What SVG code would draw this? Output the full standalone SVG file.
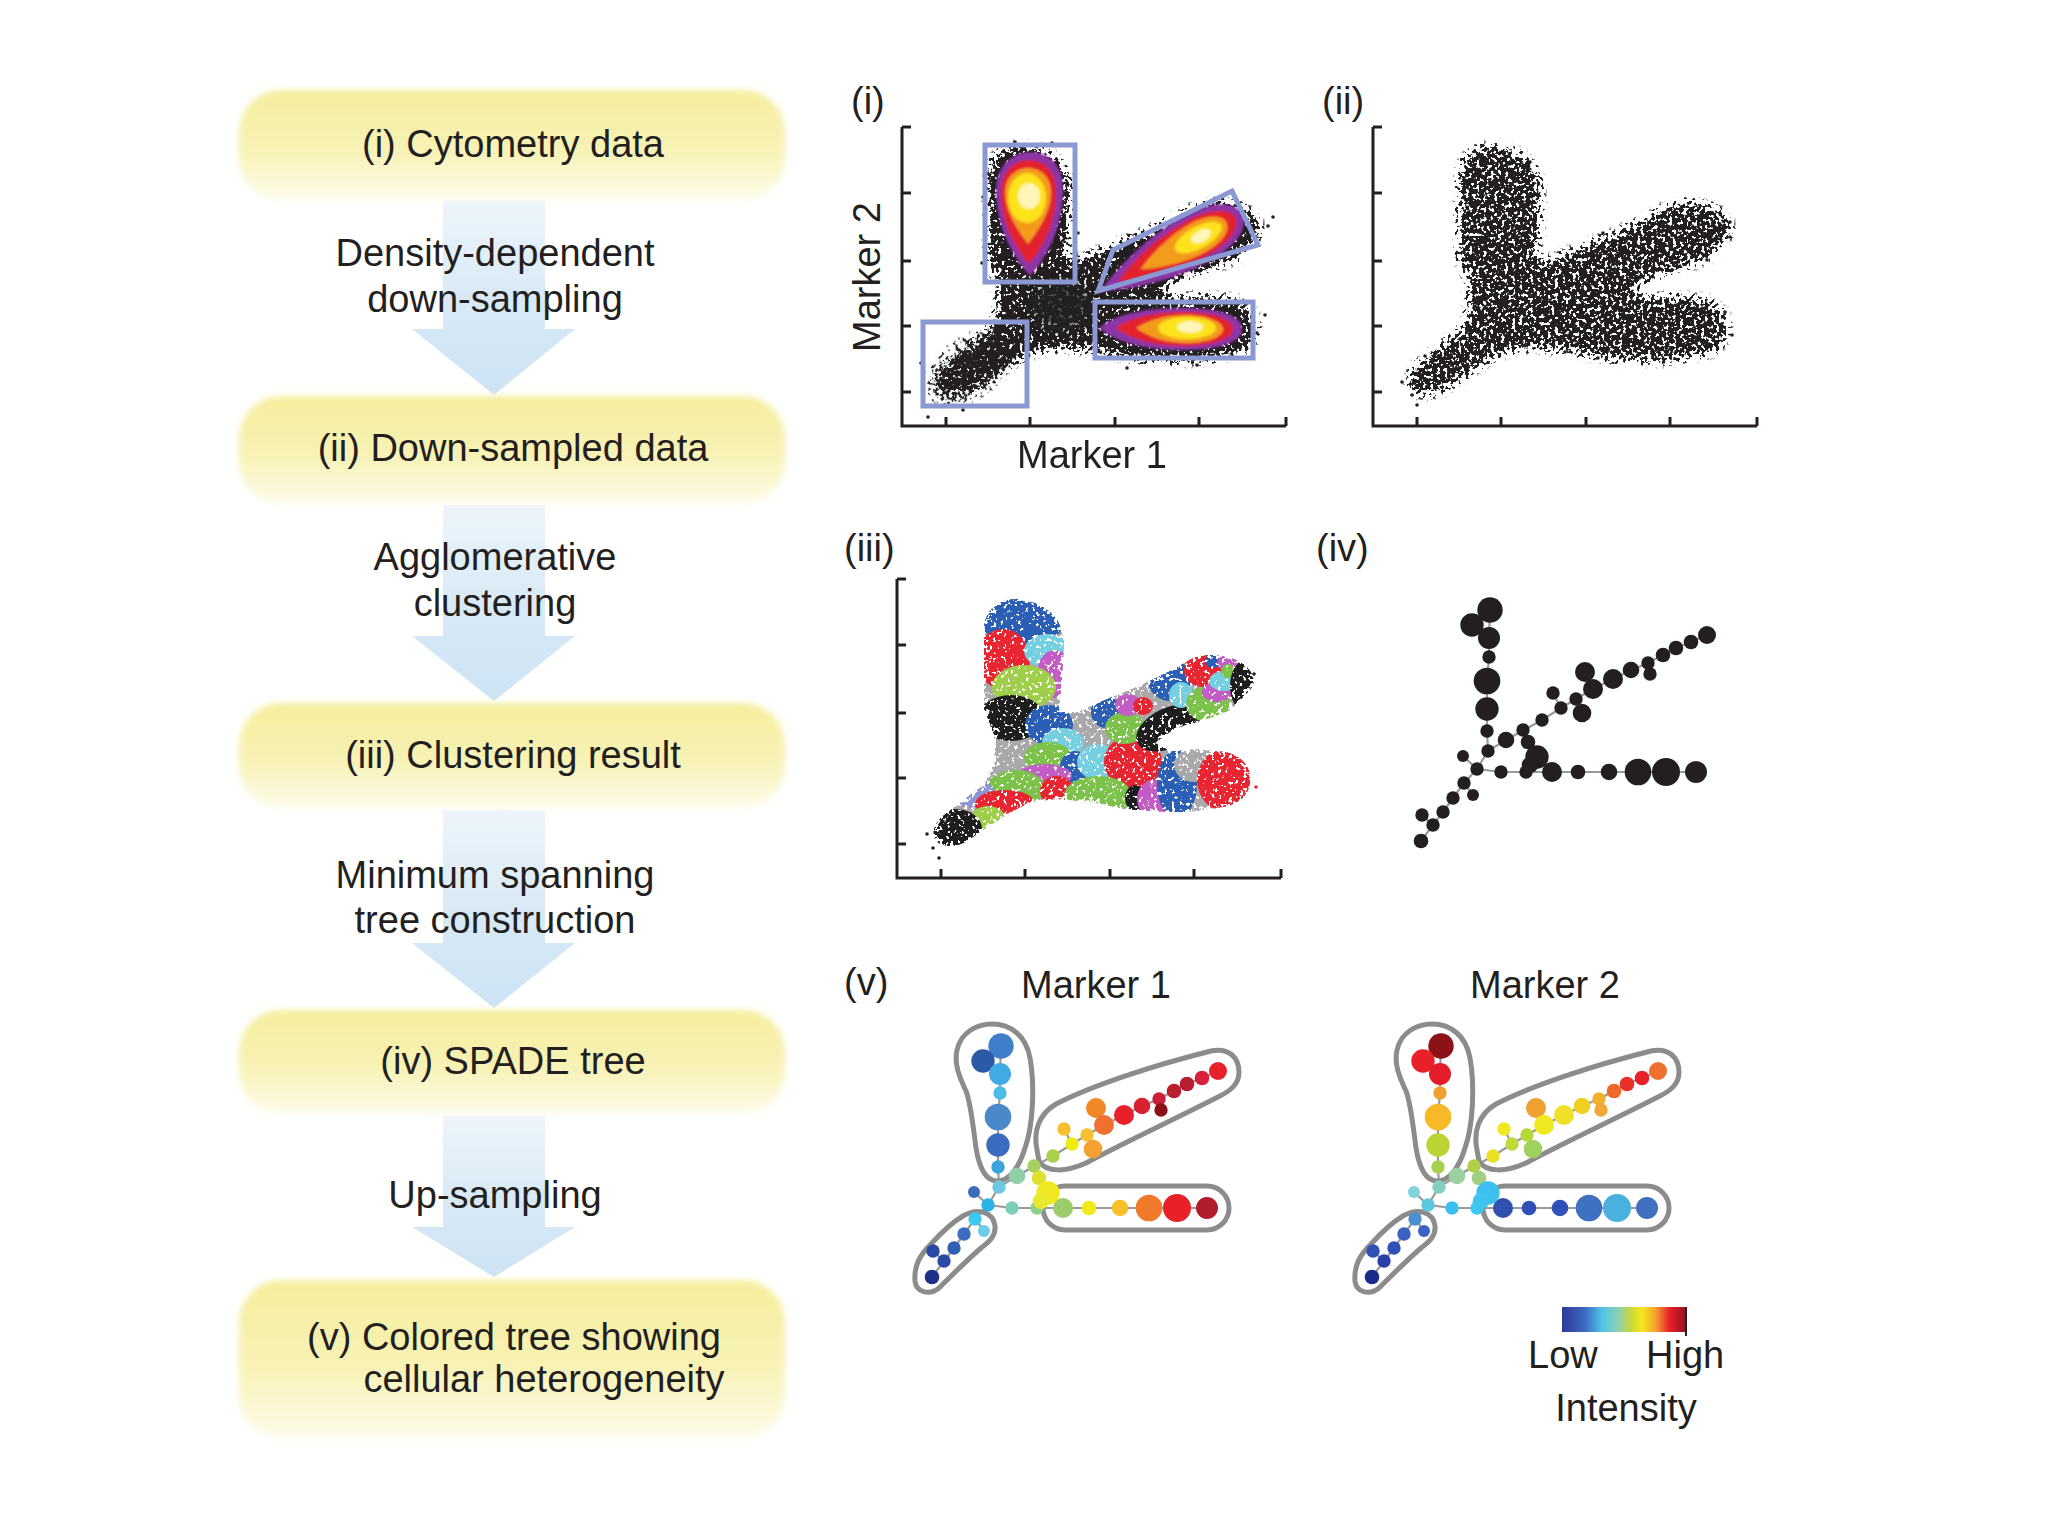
<svg xmlns="http://www.w3.org/2000/svg" width="2048" height="1536" viewBox="0 0 2048 1536">
<defs>
<style>
text{font-family:"Liberation Sans",Arial,Helvetica,sans-serif;fill:#231f20;font-size:38px;}
.mid{text-anchor:middle;}
.box{fill:url(#boxg);filter:url(#soft);}
.arr{fill:url(#arrg);}
.ax{fill:none;stroke:#231f20;stroke-width:3;}
.gate{fill:none;stroke:#8a98d3;stroke-width:5;}
.edge{stroke:#9a9a9a;stroke-width:2.2;fill:none;}
.hull{fill:none;stroke:#8c8c8c;stroke-width:5;}
.dot{fill:#231f20;}
</style>
<linearGradient id="boxg" x1="0" y1="0" x2="0" y2="1">
<stop offset="0" stop-color="#f6ee9c"/><stop offset="0.55" stop-color="#f8f2b6"/><stop offset="1" stop-color="#fdfbea"/>
</linearGradient>
<linearGradient id="arrg" x1="0" y1="0" x2="0" y2="1">
<stop offset="0" stop-color="#edf5fb"/><stop offset="0.5" stop-color="#d9eaf6"/><stop offset="1" stop-color="#cde3f4"/>
</linearGradient>
<linearGradient id="cbar" x1="0" y1="0" x2="1" y2="0">
<stop offset="0" stop-color="#2c3a98"/><stop offset="0.18" stop-color="#3d68bf"/><stop offset="0.32" stop-color="#4ec4ea"/><stop offset="0.45" stop-color="#8fcfb0"/><stop offset="0.55" stop-color="#c6d83a"/><stop offset="0.64" stop-color="#f6e71c"/><stop offset="0.75" stop-color="#f5a030"/><stop offset="0.86" stop-color="#e8202a"/><stop offset="1" stop-color="#8e1020"/>
</linearGradient>
<filter id="soft" x="-5%" y="-20%" width="110%" height="140%"><feGaussianBlur stdDeviation="3"/></filter>
<filter id="soft1" x="-10%" y="-10%" width="120%" height="120%"><feGaussianBlur stdDeviation="1.3"/></filter>
<filter id="blur6" x="-30%" y="-30%" width="160%" height="160%"><feGaussianBlur stdDeviation="7"/></filter>
<filter id="speckK" x="-10%" y="-10%" width="120%" height="120%" color-interpolation-filters="sRGB">
<feGaussianBlur in="SourceAlpha" stdDeviation="4" result="d"/>
<feTurbulence type="fractalNoise" baseFrequency="0.28" numOctaves="2" seed="4" result="t"/>
<feColorMatrix in="t" type="matrix" values="0 0 0 0 0  0 0 0 0 0  0 0 0 0 0  3 0 0 0 -1" result="n"/>
<feComposite in="d" in2="n" operator="arithmetic" k1="0" k2="1" k3="-1" k4="0" result="diff"/>
<feComponentTransfer in="diff" result="m"><feFuncA type="linear" slope="9" intercept="0"/></feComponentTransfer>
<feFlood flood-color="#231f20"/>
<feComposite in2="m" operator="in"/>
</filter>
<filter id="speckC" x="-10%" y="-10%" width="120%" height="120%" color-interpolation-filters="sRGB">
<feGaussianBlur in="SourceAlpha" stdDeviation="3.5" result="d"/>
<feTurbulence type="fractalNoise" baseFrequency="0.28" numOctaves="2" seed="9" result="t"/>
<feColorMatrix in="t" type="matrix" values="0 0 0 0 0  0 0 0 0 0  0 0 0 0 0  3 0 0 0 -1" result="n"/>
<feComposite in="d" in2="n" operator="arithmetic" k1="0" k2="1" k3="-1" k4="0" result="diff"/>
<feComponentTransfer in="diff" result="m"><feFuncA type="linear" slope="10" intercept="0"/></feComponentTransfer>
<feComposite in="SourceGraphic" in2="m" operator="in"/>
</filter>
<path id="scat" d="M87,-169 L87,-249 C87,-266 100,-279 117,-279 C136,-279 158,-269 164,-250 L167,-236 L165,-196 L162,-166 L180,-166 L210,-179 L244,-193 L277,-209 L294,-219 C306,-225 330,-225 345,-215 C357,-207 361,-194 351,-186 L334,-168 L310,-159 L277,-149 L258,-135 L274,-127 L300,-129 L330,-126 C347,-121 356,-108 353,-94 C350,-80 340,-72 320,-70 L294,-66 L260,-66 L227,-69 L194,-76 L160,-79 L134,-76 L114,-66 L94,-53 L70,-37 C61,-31 47,-30 40,-36 C33,-43 37,-55 47,-63 L67,-79 L87,-93 L97,-116 L97,-143 Z"/>
<clipPath id="clipS"><use href="#scat"/></clipPath>
<path id="axes" class="ax" d="M0,-299 L0,0 L384,0 M0,-299 L9,-299 M0,-233 L9,-233 M0,-165 L9,-165 M0,-100 L9,-100 M0,-34 L9,-34 M44,0 L44,-9 M128,0 L128,-9 M213,0 L213,-9 M297,0 L297,-9 M384,0 L384,-9"/>
<path id="edges" class="edge" d="M1490,610 L1489,638 M1472,625 L1489,638 L1489,657 L1487,681 L1487,709 L1487,731 L1488,751 L1477,769 L1463,756 M1477,769 L1464,783 L1453,798 L1443,812 L1433,825 L1421,841 M1464,783 L1473,795 M1433,825 L1422,815 M1477,769 L1501,772 L1696,772 M1488,751 L1506,740 L1542,720 L1561,708 L1576,699 L1593,689 L1613,679 L1631,670 L1648,663 L1663,655 L1676,648 L1691,642 L1707,635 M1561,708 L1553,693 M1576,699 L1582,713 M1593,689 L1585,672 M1648,663 L1650,674 M1506,740 L1523,730 L1528,742 L1537,757 L1530,765 L1526,772"/>
<g id="hulls" class="hull">
<path d="M1446,614 C1450,596 1466,588 1481,588 C1500,588 1515,600 1519,622 C1524,650 1522,690 1514,712 C1508,732 1498,745 1486,745 C1474,745 1468,730 1465,712 C1462,690 1460,668 1455,655 C1448,640 1443,628 1446,614 Z"/>
<path d="M1526,714 C1522,695 1528,678 1545,668 C1580,650 1640,630 1700,615 C1718,611 1728,622 1728,636 C1728,648 1720,655 1705,662 C1660,685 1610,708 1575,727 C1555,736 1535,737 1528,725 Z"/>
<rect x="1532" y="750" width="186" height="44" rx="22"/>
<path d="M1452,780 C1466,772 1482,775 1484,790 C1485,800 1478,806 1470,812 C1455,825 1440,840 1428,852 C1418,860 1405,856 1404,845 C1403,830 1408,820 1420,808 C1430,797 1440,787 1452,780 Z"/>
</g>
<g id="nodes">
<circle id="n1" cx="1490" cy="610" r="12.7"/>
<circle id="n2" cx="1472" cy="625" r="11.7"/>
<circle id="n3" cx="1489" cy="638" r="11"/>
<circle id="n4" cx="1489" cy="657" r="6.7"/>
<circle id="n5" cx="1487" cy="681" r="13.3"/>
<circle id="n6" cx="1487" cy="709" r="11.7"/>
<circle id="n7" cx="1487" cy="731" r="6.7"/>
<circle id="n8" cx="1488" cy="751" r="6.7"/>
<circle id="n9" cx="1477" cy="769" r="6.7"/>
<circle id="n10" cx="1463" cy="756" r="6"/>
<circle id="n11" cx="1464" cy="783" r="6.7"/>
<circle id="n12" cx="1473" cy="795" r="6"/>
<circle id="n13" cx="1453" cy="798" r="6.7"/>
<circle id="n14" cx="1443" cy="812" r="6.7"/>
<circle id="n15" cx="1422" cy="815" r="6.7"/>
<circle id="n16" cx="1433" cy="825" r="6.7"/>
<circle id="n17" cx="1421" cy="841" r="7.3"/>
<circle id="n18" cx="1501" cy="772" r="6.7"/>
<circle id="n19" cx="1526" cy="772" r="6.7"/>
<circle id="n20" cx="1552" cy="772" r="10"/>
<circle id="n21" cx="1578" cy="772" r="7.3"/>
<circle id="n22" cx="1609" cy="772" r="8.3"/>
<circle id="n23" cx="1638" cy="772" r="13.3"/>
<circle id="n24" cx="1666" cy="772" r="14"/>
<circle id="n25" cx="1696" cy="772" r="11"/>
<circle id="n26" cx="1506" cy="740" r="8.3"/>
<circle id="n27" cx="1523" cy="730" r="6.7"/>
<circle id="n28" cx="1528" cy="742" r="7.3"/>
<circle id="n29" cx="1537" cy="757" r="11.7"/>
<circle id="n30" cx="1530" cy="765" r="8.3"/>
<circle id="n31" cx="1542" cy="720" r="6.7"/>
<circle id="n32" cx="1561" cy="708" r="6.7"/>
<circle id="n33" cx="1553" cy="693" r="6.7"/>
<circle id="n34" cx="1576" cy="699" r="6.7"/>
<circle id="n35" cx="1582" cy="713" r="9.3"/>
<circle id="n36" cx="1585" cy="672" r="10"/>
<circle id="n37" cx="1593" cy="689" r="10"/>
<circle id="n38" cx="1613" cy="679" r="10"/>
<circle id="n39" cx="1631" cy="670" r="8.3"/>
<circle id="n40" cx="1648" cy="663" r="6.7"/>
<circle id="n41" cx="1650" cy="674" r="6.7"/>
<circle id="n42" cx="1663" cy="655" r="7.3"/>
<circle id="n43" cx="1676" cy="648" r="7.3"/>
<circle id="n44" cx="1691" cy="642" r="7.3"/>
<circle id="n45" cx="1707" cy="635" r="9"/>
</g>
</defs>

<rect width="2048" height="1536" fill="#ffffff"/>

<!-- connectors: flow arrows -->
<g id="connectors">
<path class="arr" d="M443,200 L545,200 L545,329 L575,329 L494,395 L412,329 L443,329 Z"/>
<path class="arr" d="M443,505 L545,505 L545,636 L575,636 L494,701 L412,636 L443,636 Z"/>
<path class="arr" d="M443,810 L545,810 L545,943 L575,943 L494,1008 L412,943 L443,943 Z"/>
<path class="arr" d="M443,1116 L545,1116 L545,1227 L575,1227 L494,1277 L412,1227 L443,1227 Z"/>
</g>

<g id="step-labels">
<text class="mid" x="495" y="266">Density-dependent</text>
<text class="mid" x="495" y="312">down-sampling</text>
<text class="mid" x="495" y="570">Agglomerative</text>
<text class="mid" x="495" y="616">clustering</text>
<text class="mid" x="495" y="888">Minimum spanning</text>
<text class="mid" x="495" y="933">tree construction</text>
<text class="mid" x="495" y="1208">Up-sampling</text>
</g>

<g id="box1"><rect class="box" x="239" y="90" width="546" height="110" rx="42"/><text class="mid" x="513" y="157">(i) Cytometry data</text></g>
<g id="box2"><rect class="box" x="239" y="396" width="546" height="108" rx="42"/><text class="mid" x="513" y="461">(ii) Down-sampled data</text></g>
<g id="box3"><rect class="box" x="239" y="703" width="546" height="105" rx="42"/><text class="mid" x="513" y="768">(iii) Clustering result</text></g>
<g id="box4"><rect class="box" x="239" y="1010" width="546" height="104" rx="42"/><text class="mid" x="513" y="1074">(iv) SPADE tree</text></g>
<g id="box5"><rect class="box" x="239" y="1280" width="546" height="158" rx="42"/><text class="mid" x="514" y="1350">(v) Colored tree showing</text><text class="mid" x="544" y="1392">cellular heterogeneity</text></g>

<!-- panel (i) -->
<g id="panel-i">
<text x="851" y="114">(i)</text>
<g transform="translate(902,426)">
<use href="#scat" filter="url(#speckK)"/>
<ellipse cx="68" cy="-58" rx="46" ry="26" transform="rotate(-35 68 -58)" fill="#000" fill-opacity="0.55" filter="url(#speckK)"/>
<ellipse cx="160" cy="-120" rx="30" ry="24" fill="#231f20" fill-opacity="0.8" filter="url(#blur6)"/>
<g filter="url(#soft1)">
<path fill="#8d35a6" d="M128,-150 C110,-170 94,-200 94,-236 C94,-260 110,-274 128,-274 C148,-274 161,-260 161,-236 C161,-200 146,-170 128,-150 Z"/>
<path fill="#e3202e" d="M127,-162 C112,-180 99,-205 99,-234 C99,-254 112,-266 127,-266 C143,-266 154,-254 154,-234 C154,-205 142,-180 127,-162 Z"/>
<path fill="#f39c1f" d="M126,-182 C114,-198 103,-215 103,-233 C103,-249 114,-258 126,-258 C139,-258 149,-249 149,-233 C149,-215 138,-198 126,-182 Z"/>
<ellipse cx="125" cy="-228" rx="19" ry="25" fill="#fde31e"/>
<ellipse cx="127" cy="-230" rx="11" ry="13" fill="#fff6b8"/>
<g transform="translate(270,-174) rotate(-28.7)">
<path fill="#8d35a6" d="M-82,0 C-50,-15 -10,-26 30,-26 C62,-26 80,-13 80,0 C80,14 62,26 30,26 C-10,26 -50,15 -82,0 Z"/>
<path fill="#e3202e" d="M-62,0 C-35,-13 -5,-20 28,-20 C56,-20 72,-10 72,0 C72,10 56,20 28,20 C-5,20 -35,13 -62,0 Z"/>
<path fill="#f39c1f" d="M-36,0 C-15,-10 10,-16 30,-16 C51,-16 62,-8 62,0 C62,8 51,16 30,16 C10,16 -15,10 -36,0 Z"/>
<ellipse cx="30" cy="0" rx="26" ry="11" fill="#fde31e"/>
<ellipse cx="33" cy="0" rx="11" ry="6" fill="#fff6b8"/>
</g>
<path fill="#8d35a6" d="M197,-98 C215,-113 245,-118 280,-118 C316,-118 340,-111 340,-97 C340,-83 316,-76 280,-76 C245,-76 215,-83 197,-98 Z"/>
<path fill="#e3202e" d="M214,-98 C230,-110 255,-114 282,-114 C311,-114 331,-107 331,-97 C331,-87 311,-80 282,-80 C255,-80 230,-86 214,-98 Z"/>
<path fill="#f39c1f" d="M234,-98 C248,-107 265,-111 284,-111 C306,-111 321,-104 321,-97 C321,-89 306,-83 284,-83 C265,-83 248,-88 234,-98 Z"/>
<ellipse cx="285" cy="-98" rx="29" ry="11" fill="#fde31e"/>
<ellipse cx="288" cy="-99" rx="13" ry="6" fill="#fff6b8"/>
</g>
<g class="dot">
<circle cx="113" cy="-284" r="1.8"/><circle cx="150" cy="-283" r="1.8"/><circle cx="26" cy="-9" r="1.8"/><circle cx="61" cy="-16" r="1.8"/><circle cx="19" cy="-63" r="1.8"/><circle cx="225" cy="-58" r="1.8"/><circle cx="295" cy="-61" r="1.8"/><circle cx="371" cy="-209" r="1.8"/><circle cx="363" cy="-111" r="1.8"/><circle cx="355" cy="-93" r="1.8"/><circle cx="176" cy="-193" r="1.8"/><circle cx="81" cy="-229" r="1.8"/><circle cx="80" cy="-163" r="1.8"/><circle cx="366" cy="-200" r="1.8"/>
</g>
<use href="#axes"/>
</g>
<g class="gate">
<rect x="985" y="145" width="90" height="137"/>
<rect x="923" y="322" width="104" height="84"/>
<rect x="1095" y="302" width="158" height="56"/>
<polygon points="1098,291 1113,250 1232,191 1258,245"/>
</g>
<text class="mid" x="1092" y="468">Marker 1</text>
<text class="mid" transform="translate(880,277) rotate(-90)">Marker 2</text>
</g>

<!-- panel (ii) -->
<g id="panel-ii">
<text x="1322" y="114">(ii)</text>
<g transform="translate(1373,426)">
<use href="#scat" fill-opacity="0.85" filter="url(#speckK)"/>
<g class="dot">
<circle cx="29" cy="-44" r="1.8"/><circle cx="39" cy="-31" r="1.8"/><circle cx="44" cy="-21" r="1.8"/><circle cx="52" cy="-70" r="1.8"/><circle cx="357" cy="-204" r="1.8"/><circle cx="357" cy="-189" r="1.8"/><circle cx="359" cy="-91" r="1.8"/><circle cx="352" cy="-114" r="1.8"/><circle cx="230" cy="-193" r="1.8"/><circle cx="192" cy="-74" r="1.8"/><circle cx="225" cy="-68" r="1.8"/><circle cx="157" cy="-264" r="1.8"/><circle cx="334" cy="-166" r="1.8"/>
</g>
<use href="#axes"/>
</g>
</g>

<!-- panel (iii) -->
<g id="panel-iii">
<text x="844" y="561">(iii)</text>
<g transform="translate(897,878)">
<g filter="url(#speckC)">
<g clip-path="url(#clipS)">
<use href="#scat" fill="#a9a9ab"/>
<ellipse cx="112" cy="-125" rx="24" ry="23" fill="#a9a9ab"/>
<ellipse cx="192" cy="-145" rx="25" ry="23" fill="#a9a9ab"/>
<ellipse cx="250" cy="-184" rx="22" ry="13" fill="#a9a9ab"/>
<ellipse cx="126" cy="-260" rx="44" ry="27" fill="#2b5fb6"/>
<ellipse cx="106" cy="-219" rx="27" ry="30" fill="#e82530"/>
<ellipse cx="151" cy="-227" rx="24" ry="17" fill="#74cfe0"/>
<ellipse cx="158" cy="-204" rx="18" ry="24" fill="#c35cc4"/>
<ellipse cx="127" cy="-191" rx="32" ry="22" fill="#9fcf4a"/>
<ellipse cx="114" cy="-160" rx="33" ry="23" fill="#1e1e1e"/>
<ellipse cx="152" cy="-153" rx="24" ry="20" fill="#2b5fb6"/>
<ellipse cx="166" cy="-136" rx="21" ry="14" fill="#74cfe0"/>
<ellipse cx="151" cy="-121" rx="24" ry="15" fill="#7cc24a"/>
<ellipse cx="178" cy="-111" rx="15" ry="16" fill="#2b5fb6"/>
<ellipse cx="201" cy="-116" rx="21" ry="18" fill="#74cfe0"/>
<ellipse cx="236" cy="-116" rx="29" ry="27" fill="#e82530"/>
<ellipse cx="148" cy="-102" rx="27" ry="12" fill="#c35cc4"/>
<ellipse cx="119" cy="-90" rx="29" ry="18" fill="#7cc24a"/>
<ellipse cx="160" cy="-87" rx="17" ry="15" fill="#e82530"/>
<ellipse cx="201" cy="-82" rx="34" ry="20" fill="#7cc24a"/>
<ellipse cx="238" cy="-80" rx="10" ry="13" fill="#1e1e1e"/>
<ellipse cx="256" cy="-79" rx="16" ry="19" fill="#c35cc4"/>
<ellipse cx="280" cy="-94" rx="20" ry="34" fill="#2b5fb6"/>
<ellipse cx="297" cy="-113" rx="20" ry="17" fill="#a9a9ab"/>
<ellipse cx="330" cy="-98" rx="30" ry="32" fill="#e82530"/>
<ellipse cx="209" cy="-166" rx="15" ry="16" fill="#2b5fb6"/>
<ellipse cx="228" cy="-150" rx="20" ry="16" fill="#7cc24a"/>
<ellipse cx="231" cy="-173" rx="13" ry="11" fill="#c35cc4"/>
<ellipse cx="246" cy="-172" rx="10" ry="9" fill="#e82530"/>
<ellipse cx="272" cy="-150" rx="35" ry="20" transform="rotate(-25 272 -150)" fill="#1e1e1e"/>
<ellipse cx="273" cy="-198" rx="22" ry="21" fill="#2b5fb6"/>
<ellipse cx="284" cy="-183" rx="12" ry="13" fill="#74cfe0"/>
<ellipse cx="311" cy="-174" rx="22" ry="18" fill="#7cc24a"/>
<ellipse cx="306" cy="-208" rx="19" ry="17" fill="#e82530"/>
<ellipse cx="320" cy="-186" rx="15" ry="10" fill="#c35cc4"/>
<ellipse cx="327" cy="-197" rx="15" ry="10" fill="#74cfe0"/>
<ellipse cx="316" cy="-217" rx="8" ry="7" fill="#2b5fb6"/>
<ellipse cx="331" cy="-215" rx="11" ry="8" fill="#c35cc4"/>
<ellipse cx="331" cy="-207" rx="7" ry="7" fill="#7cc24a"/>
<ellipse cx="349" cy="-192" rx="16" ry="26" fill="#1e1e1e"/>
<ellipse cx="78" cy="-84" rx="20" ry="14" fill="#8d95d6"/>
<ellipse cx="108" cy="-74" rx="30" ry="14" fill="#e82530"/>
<ellipse cx="91" cy="-60" rx="17" ry="12" fill="#9fcf4a"/>
<ellipse cx="58" cy="-49" rx="27" ry="20" fill="#1e1e1e"/>
</g>
</g>
<g class="dot">
<circle cx="30" cy="-44" r="1.8"/><circle cx="36" cy="-30" r="1.8"/><circle cx="42" cy="-20" r="1.8"/><circle cx="357" cy="-204" r="1.8"/><circle cx="359" cy="-91" r="1.8" fill="#e82530"/>
</g>
<use href="#axes"/>
</g>
</g>

<!-- panel (iv) -->
<g id="panel-iv">
<text x="1316" y="561">(iv)</text>
<use href="#edges"/>
<use href="#nodes" fill="#231f20"/>
</g>

<!-- panel (v) -->
<g id="panel-v">
<text x="844" y="995">(v)</text>
<text class="mid" x="1096" y="998">Marker 1</text>
<text class="mid" x="1545" y="998">Marker 2</text>
<g id="tree-marker1" transform="translate(-489,436)">
<use href="#edges"/>
<use href="#hulls"/>
<use href="#n1" fill="#3f7fca"/><use href="#n2" fill="#2d5aa6"/><use href="#n3" fill="#41aae2"/><use href="#n4" fill="#4cbbe9"/><use href="#n5" fill="#4a88c8"/><use href="#n6" fill="#3a6bbf"/><use href="#n7" fill="#3aa3dd"/><use href="#n8" fill="#6dc8e4"/><use href="#n9" fill="#2bb3e6"/><use href="#n10" fill="#3a6cc0"/>
<use href="#n11" fill="#3ccbee"/><use href="#n12" fill="#6ccbe8"/><use href="#n13" fill="#3a6cc0"/><use href="#n14" fill="#2e5fb5"/><use href="#n15" fill="#2b4aa8"/><use href="#n16" fill="#2b4aa8"/><use href="#n17" fill="#1f2f8a"/>
<use href="#n18" fill="#7dcfb8"/><use href="#n19" fill="#8fcf8a"/><use href="#n20" fill="#9ccc6c"/><use href="#n21" fill="#f0e81a"/><use href="#n22" fill="#f8c02a"/><use href="#n23" fill="#f07a2a"/><use href="#n24" fill="#e8202a"/><use href="#n25" fill="#b01e2e"/>
<use href="#n26" fill="#8fd0a8"/><use href="#n27" fill="#a8d060"/><use href="#n28" fill="#e0e030"/><use href="#n29" fill="#f0e820"/><use href="#n30" fill="#e8e830"/>
<use href="#n31" fill="#a8d048"/><use href="#n32" fill="#f0ec10"/><use href="#n33" fill="#f8c030"/><use href="#n34" fill="#f8c030"/><use href="#n35" fill="#f5a030"/><use href="#n36" fill="#f08828"/><use href="#n37" fill="#f07030"/><use href="#n38" fill="#e8202a"/><use href="#n39" fill="#d82030"/><use href="#n40" fill="#c8203a"/><use href="#n41" fill="#8a1018"/><use href="#n42" fill="#b81e30"/><use href="#n43" fill="#b81e30"/><use href="#n44" fill="#d8203a"/><use href="#n45" fill="#e8202a"/>
</g>
<g id="tree-marker2" transform="translate(-49,436)">
<use href="#edges"/>
<use href="#hulls"/>
<use href="#n1" fill="#8b1216"/><use href="#n2" fill="#e8202a"/><use href="#n3" fill="#e51d2a"/><use href="#n4" fill="#f0a030"/><use href="#n5" fill="#f8b928"/><use href="#n6" fill="#bcd334"/><use href="#n7" fill="#a6d04e"/><use href="#n8" fill="#84d0c0"/><use href="#n9" fill="#5cc8e0"/><use href="#n10" fill="#80d4dc"/>
<use href="#n11" fill="#4a90d0"/><use href="#n12" fill="#3a62c0"/><use href="#n13" fill="#3a62c0"/><use href="#n14" fill="#3050b8"/><use href="#n15" fill="#3050b8"/><use href="#n16" fill="#2840a8"/><use href="#n17" fill="#1a2a8a"/>
<use href="#n18" fill="#3cc0f0"/><use href="#n19" fill="#3cc8f0"/><use href="#n20" fill="#3050b0"/><use href="#n21" fill="#3050b8"/><use href="#n22" fill="#3050b8"/><use href="#n23" fill="#4070c0"/><use href="#n24" fill="#4ab0e0"/><use href="#n25" fill="#4070c0"/>
<use href="#n26" fill="#9cd0a0"/><use href="#n27" fill="#b0d048"/><use href="#n28" fill="#a0d080"/><use href="#n29" fill="#3cc0f0"/><use href="#n30" fill="#40c4f0"/>
<use href="#n31" fill="#e8e020"/><use href="#n32" fill="#c0d838"/><use href="#n33" fill="#f0e820"/><use href="#n34" fill="#b8d838"/><use href="#n35" fill="#a0d060"/><use href="#n36" fill="#f0a030"/><use href="#n37" fill="#f0e820"/><use href="#n38" fill="#f0e028"/><use href="#n39" fill="#f0d020"/><use href="#n40" fill="#f0b030"/><use href="#n41" fill="#f0a838"/><use href="#n42" fill="#f06828"/><use href="#n43" fill="#e83028"/><use href="#n44" fill="#e82028"/><use href="#n45" fill="#f07030"/>
</g>
<g id="legend">
<rect x="1562" y="1307" width="125" height="25" fill="url(#cbar)"/>
<line x1="1686" y1="1307" x2="1686" y2="1336" stroke="#231f20" stroke-width="2"/>
<text x="1528" y="1368">Low</text>
<text x="1646" y="1368">High</text>
<text class="mid" x="1626" y="1421">Intensity</text>
</g>
</g>
</svg>
